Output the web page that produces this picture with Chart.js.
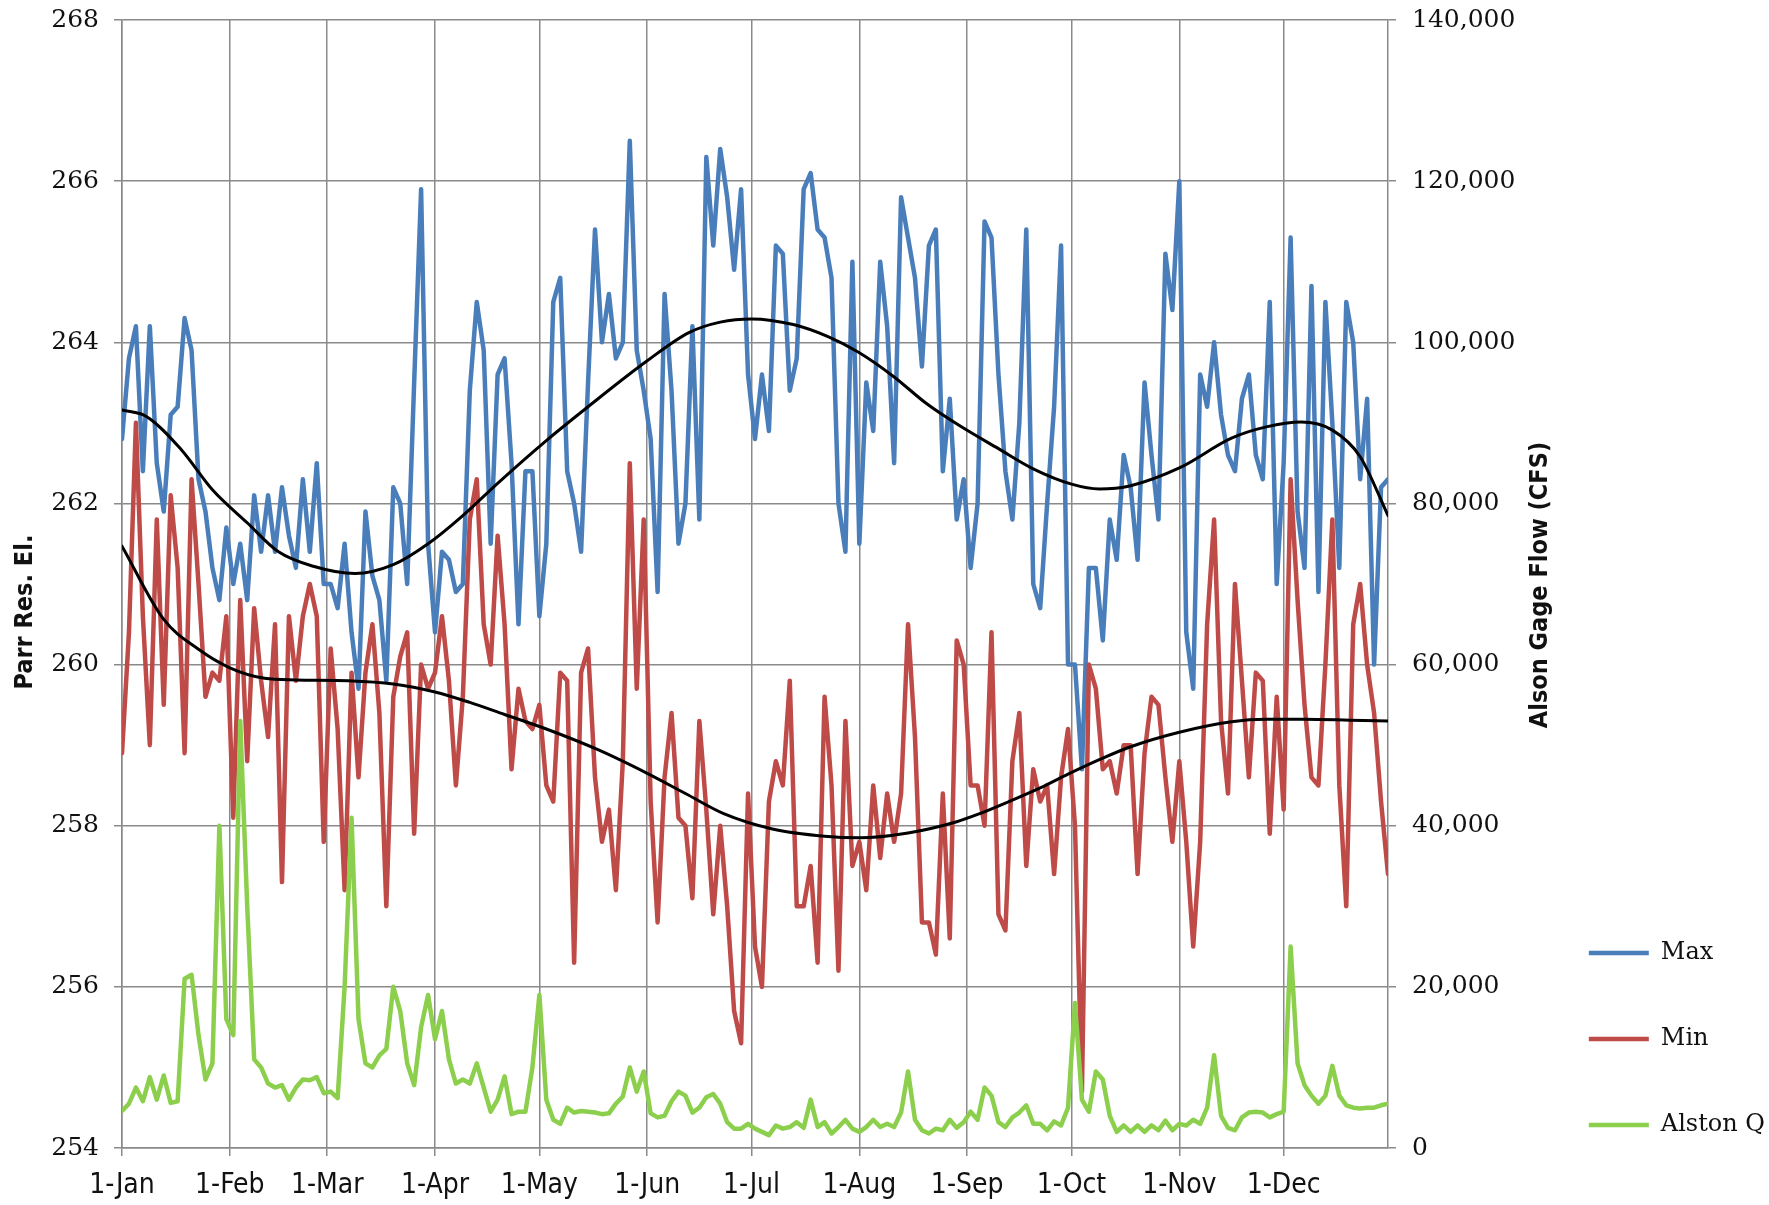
<!DOCTYPE html>
<html>
<head>
<meta charset="utf-8">
<title>Parr Reservoir Elevation and Alston Gage Flow</title>
<script src="https://cdn.jsdelivr.net/npm/chart.js@4/dist/chart.umd.min.js"></script>
<style>
  html, body { margin: 0; padding: 0; background: #ffffff; }
  #wrap { width: 1769px; height: 1205px; }
</style>
</head>
<body>
<div id="wrap"><canvas id="chart" width="1769" height="1205"></canvas></div>
<script>
// Month tick positions (day of year, 0 = 1-Jan) and their labels
const monthStarts = [0, 31, 59, 90, 120, 151, 181, 212, 243, 273, 304, 334];
const monthLabels = ['1-Jan', '1-Feb', '1-Mar', '1-Apr', '1-May', '1-Jun',
                     '1-Jul', '1-Aug', '1-Sep', '1-Oct', '1-Nov', '1-Dec'];

// Every other day of the year
const sampleDays = [];
for (let d = 0; d <= 364; d += 2) sampleDays.push(d);

// Daily maximum reservoir elevation (ft)
const maxEl = [
  262.8, 263.8, 264.2, 262.4, 264.2, 262.5, 261.9, 263.1, 263.2, 264.3,
  263.9, 262.3, 261.9, 261.2, 260.8, 261.7, 261.0, 261.5, 260.8, 262.1,
  261.4, 262.1, 261.4, 262.2, 261.6, 261.2, 262.3, 261.4, 262.5, 261.0,
  261.0, 260.7, 261.5, 260.4, 259.7, 261.9, 261.1, 260.8, 259.8, 262.2,
  262.0, 261.0, 263.5, 265.9, 261.5, 260.4, 261.4, 261.3, 260.9, 261.0,
  263.4, 264.5, 263.9, 261.5, 263.6, 263.8, 262.5, 260.5, 262.4, 262.4,
  260.6, 261.5, 264.5, 264.8, 262.4, 262.0, 261.4, 263.5, 265.4, 264.0,
  264.6, 263.8, 264.0, 266.5, 263.9, 263.4, 262.8, 260.9, 264.6, 263.4,
  261.5, 262.0, 264.2, 261.8, 266.3, 265.2, 266.4, 265.8, 264.9, 265.9,
  263.6, 262.8, 263.6, 262.9, 265.2, 265.1, 263.4, 263.8, 265.9, 266.1,
  265.4, 265.3, 264.8, 262.0, 261.4, 265.0, 261.5, 263.5, 262.9, 265.0,
  264.2, 262.5, 265.8, 265.3, 264.8, 263.7, 265.2, 265.4, 262.4, 263.3,
  261.8, 262.3, 261.2, 262.0, 265.5, 265.3, 263.6, 262.4, 261.8, 263.0,
  265.4, 261.0, 260.7, 262.0, 263.2, 265.2, 260.0, 260.0, 258.7, 261.2,
  261.2, 260.3, 261.8, 261.3, 262.6, 262.2, 261.3, 263.5, 262.6, 261.8,
  265.1, 264.4, 266.0, 260.4, 259.7, 263.6, 263.2, 264.0, 263.1, 262.6,
  262.4, 263.3, 263.6, 262.6, 262.3, 264.5, 261.0, 262.5, 265.3, 261.9,
  261.2, 264.7, 260.9, 264.5, 263.0, 261.2, 264.5, 264.0, 262.3, 263.3,
  260.0, 262.2, 262.3
];

// Daily minimum reservoir elevation (ft)
const minEl = [
  258.9, 260.4, 263.0, 260.6, 259.0, 261.8, 259.5, 262.1, 261.2, 258.9,
  262.3, 261.0, 259.6, 259.9, 259.8, 260.6, 258.1, 260.8, 258.8, 260.7,
  259.8, 259.1, 260.5, 257.3, 260.6, 259.8, 260.6, 261.0, 260.6, 257.8,
  260.2, 259.2, 257.2, 259.9, 258.6, 259.9, 260.5, 259.4, 257.0, 259.6,
  260.1, 260.4, 257.9, 260.0, 259.7, 259.9, 260.6, 259.8, 258.5, 259.6,
  261.8, 262.3, 260.5, 260.0, 261.6, 260.5, 258.7, 259.7, 259.3, 259.2,
  259.5, 258.5, 258.3, 259.9, 259.8, 256.3, 259.9, 260.2, 258.6, 257.8,
  258.2, 257.2, 258.8, 262.5, 259.7, 261.8, 258.3, 256.8, 258.6, 259.4,
  258.1, 258.0, 257.1, 259.3, 258.2, 256.9, 258.0, 257.0, 255.7, 255.3,
  258.4, 256.5, 256.0, 258.3, 258.8, 258.5, 259.8, 257.0, 257.0, 257.5,
  256.3, 259.6, 258.5, 256.2, 259.3, 257.5, 257.8, 257.2, 258.5, 257.6,
  258.4, 257.8, 258.4, 260.5, 259.1, 256.8, 256.8, 256.4, 258.4, 256.6,
  260.3, 260.0, 258.5, 258.5, 258.0, 260.4, 256.9, 256.7, 258.8, 259.4,
  257.5, 258.7, 258.3, 258.5, 257.4, 258.6, 259.2, 258.0, 254.7, 260.0,
  259.7, 258.7, 258.8, 258.4, 259.0, 259.0, 257.4, 258.9, 259.6, 259.5,
  258.6, 257.8, 258.8, 257.8, 256.5, 257.8, 260.5, 261.8, 259.3, 258.4,
  261.0, 259.8, 258.6, 259.9, 259.8, 257.9, 259.6, 258.2, 262.3, 260.8,
  259.5, 258.6, 258.5, 260.0, 261.8, 258.5, 257.0, 260.5, 261.0, 260.0,
  259.4, 258.3, 257.4
];

// Alston gage flow (cfs)
const alstonQ = [
   4600,  5500,  7500,  5800,  8800,  6000,  9000,  5600,  5800, 21000,
  21500, 14000,  8500, 10500, 40000, 16000, 14000, 53000, 30000, 11000,
  10000,  8000,  7500,  7800,  6000,  7500,  8500,  8400,  8800,  6800,
   7000,  6200, 20000, 41000, 16000, 10500, 10000, 11500, 12300, 20000,
  17000, 10500,  7800, 15000, 19000, 13500, 17000, 11000,  8000,  8500,
   8000, 10500,  7500,  4500,  6000,  8900,  4200,  4500,  4500, 10000,
  19000,  6000,  3500,  3000,  5000,  4400,  4600,  4500,  4400,  4200,
   4300,  5500,  6400, 10000,  7000,  9500,  4300,  3800,  4000,  5800,
   7000,  6500,  4400,  5000,  6300,  6700,  5500,  3200,  2400,  2400,
   3000,  2400,  2000,  1600,  2800,  2400,  2600,  3200,  2500,  6000,
   2600,  3200,  1800,  2600,  3500,  2400,  2000,  2600,  3500,  2600,
   3000,  2600,  4400,  9500,  3500,  2200,  1800,  2400,  2200,  3500,
   2500,  3200,  4500,  3500,  7500,  6500,  3200,  2600,  3800,  4400,
   5300,  3000,  3000,  2200,  3300,  2800,  5000, 18000,  6000,  4500,
   9500,  8500,  4000,  2000,  2800,  2000,  2800,  2000,  2800,  2200,
   3400,  2200,  3000,  2800,  3500,  3000,  5000, 11500,  4000,  2500,
   2200,  3800,  4400,  4500,  4400,  3800,  4200,  4500, 25000, 10500,
   7800,  6500,  5500,  6500, 10200,  6500,  5300,  5000,  4900,  5000,
   5000,  5300,  5500
];

// Smoothed trend of the maximum elevation
const maxTrendDays = [0, 7, 17, 26, 36, 45, 55, 67, 78, 88, 98, 108, 122, 134, 151, 163, 172,
                      181, 193, 203, 212, 222, 231, 241, 252, 262, 273, 281, 290, 304, 319,
                      329, 339, 348, 356, 364];
const maxTrend = [263.16, 263.08, 262.67, 262.17, 261.76, 261.40, 261.22, 261.13, 261.24,
                  261.50, 261.85, 262.25, 262.78, 263.20, 263.77, 264.12, 264.25, 264.29,
                  264.22, 264.07, 263.87, 263.57, 263.25, 262.96, 262.68, 262.43, 262.24,
                  262.18, 262.22, 262.44, 262.81, 262.95, 263.01, 262.91, 262.58, 261.85];

// Smoothed trend of the minimum elevation
const minTrendDays = [0, 12, 22, 31, 41, 50, 65, 78, 90, 100, 110, 122, 137, 151, 162, 173,
                      187, 202, 212, 226, 240, 246, 255, 264, 272, 281, 290, 304, 319, 329,
                      340, 353, 364];
const minTrend = [261.47, 260.56, 260.19, 259.96, 259.83, 259.81, 259.80, 259.76, 259.66,
                  259.53, 259.38, 259.20, 258.94, 258.65, 258.40, 258.15, 257.96, 257.87,
                  257.85, 257.91, 258.05, 258.14, 258.30, 258.47, 258.64, 258.82, 258.98,
                  259.16, 259.29, 259.32, 259.32, 259.31, 259.30];

const NARROW = '"Liberation Sans Narrow", "DejaVu Sans Condensed", "Arial Narrow", sans-serif';
const SERIF = '"DejaVu Serif", serif';
const GRID = '#8a8a8a';
const PAD_RIGHT = -6;

const xy = (xs, ys) => xs.map((x, i) => ({ x: x, y: ys[i] }));

// Axis titles, both written bottom-to-top
const axisTitles = {
  id: 'axisTitles',
  afterDraw(chart) {
    const ctx = chart.ctx;
    const y1 = chart.scales.y1;
    const put = (text, x, y) => {
      ctx.save();
      ctx.translate(x, y);
      ctx.rotate(-Math.PI / 2);
      ctx.font = 'bold 25px ' + NARROW;
      ctx.fillStyle = '#111111';
      ctx.textAlign = 'center';
      ctx.textBaseline = 'middle';
      ctx.fillText(text, 0, 0);
      ctx.restore();
    };
    put('Parr Res. El.', 25, 612);
    put('Alson Gage Flow (CFS)', y1.left + 152, 585);
  }
};

const lineStyle = (color, width) => ({
  borderColor: color,
  backgroundColor: color,
  borderWidth: width,
  pointRadius: 0,
  pointHoverRadius: 0,
  tension: 0,
  fill: false,
  borderJoinStyle: 'round',
  borderCapStyle: 'round'
});

const noEdgePadding = (s) => { s.paddingTop = 0; s.paddingBottom = 0; };

new Chart(document.getElementById('chart'), {
  type: 'line',
  data: {
    datasets: [
      Object.assign({ label: 'Max', data: xy(sampleDays, maxEl), yAxisID: 'y', order: 5 },
                    lineStyle('#4a7ebb', 4.5)),
      Object.assign({ label: 'Min', data: xy(sampleDays, minEl), yAxisID: 'y', order: 4 },
                    lineStyle('#be4b48', 4.5)),
      Object.assign({ label: 'Alston Q', data: xy(sampleDays, alstonQ), yAxisID: 'y1', order: 3 },
                    lineStyle('#8ccf4d', 4.5)),
      Object.assign({ label: 'Max trend', data: xy(maxTrendDays, maxTrend), yAxisID: 'y', order: 1 },
                    lineStyle('#000000', 3), { cubicInterpolationMode: 'monotone' }),
      Object.assign({ label: 'Min trend', data: xy(minTrendDays, minTrend), yAxisID: 'y', order: 2 },
                    lineStyle('#000000', 3), { cubicInterpolationMode: 'monotone' })
    ]
  },
  options: {
    responsive: false,
    animation: false,
    events: [],
    devicePixelRatio: 1,
    layout: { padding: { left: 0, right: PAD_RIGHT, top: 20, bottom: 6 } },
    plugins: {
      tooltip: { enabled: false },
      title: { display: false },
      legend: {
        position: 'right',
        align: 'end',
        labels: {
          usePointStyle: true,
          pointStyle: 'line',
          pointStyleWidth: 60,
          padding: 62,
          color: '#111111',
          font: { family: SERIF, size: 24 },
          filter: (item) => item.datasetIndex < 3,
          sort: (a, b) => a.datasetIndex - b.datasetIndex
        }
      }
    },
    scales: {
      x: {
        type: 'linear',
        min: 0,
        max: 364,
        afterBuildTicks: (s) => { s.ticks = monthStarts.map(v => ({ value: v })); },
        afterFit: (s) => { s.height = 51; },
        ticks: {
          autoSkip: false,
          maxRotation: 0,
          padding: 13,
          color: '#111111',
          font: { family: NARROW, size: 28 },
          callback: (v, i) => monthLabels[i]
        },
        grid: { color: GRID, lineWidth: 1.5, tickLength: 8, tickColor: GRID },
        border: { color: GRID, width: 1.5 }
      },
      y: {
        position: 'left',
        min: 254,
        max: 268,
        afterFit: (s) => { s.width = 122; noEdgePadding(s); },
        ticks: {
          stepSize: 2,
          padding: 15,
          color: '#111111',
          font: { family: SERIF, size: 25 }
        },
        grid: { color: GRID, lineWidth: 1.5, tickLength: 8, tickColor: GRID },
        border: { color: GRID, width: 1.5 }
      },
      y1: {
        position: 'right',
        min: 0,
        max: 140000,
        afterFit: (s) => {
          const lg = s.chart.legend;
          const lw = lg && lg.width ? lg.width : 247;
          s.width = s.chart.width - PAD_RIGHT - lw - 1388;
          noEdgePadding(s);
        },
        ticks: {
          stepSize: 20000,
          padding: 16,
          color: '#111111',
          font: { family: SERIF, size: 25 },
          callback: (v) => v.toLocaleString('en-US')
        },
        grid: { drawOnChartArea: false, color: GRID, lineWidth: 1.5, tickLength: 8, tickColor: GRID },
        border: { color: GRID, width: 1.5 }
      }
    }
  },
  plugins: [axisTitles]
});
</script>
</body>
</html>
